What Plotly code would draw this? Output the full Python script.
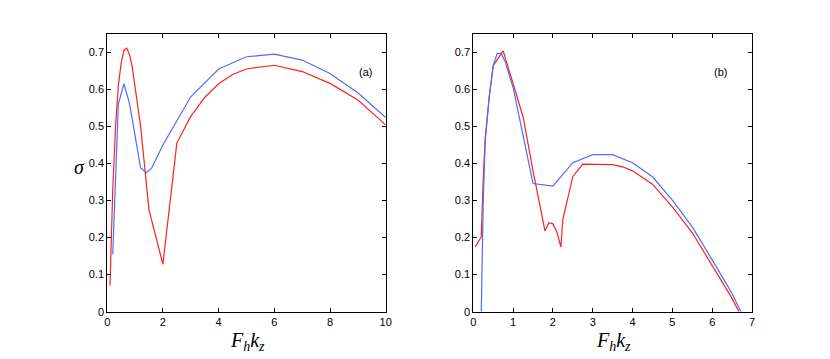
import plotly.graph_objects as go

# panel (a)
a_blue_x = [0.2, 0.4, 0.6, 0.8, 1.0, 1.2, 1.4, 1.6, 2.0, 3, 4, 5, 6, 7, 8, 9, 10]
a_blue_y = [0.155, 0.56, 0.615, 0.562, 0.475, 0.388, 0.375, 0.388, 0.45, 0.58,
            0.655, 0.688, 0.695, 0.679, 0.643, 0.591, 0.524]
a_red_x = [0.1, 0.2, 0.3, 0.4, 0.5, 0.6, 0.7, 0.8, 0.9, 1.0, 1.1, 1.2, 1.5, 2.0,
           2.5, 3.0, 3.5, 4.0, 4.5, 5, 6, 7, 8, 9, 10]
a_red_y = [0.07, 0.33, 0.50, 0.61, 0.67, 0.705, 0.711, 0.695, 0.66, 0.61, 0.56,
           0.50, 0.275, 0.128, 0.455, 0.527, 0.578, 0.615, 0.64, 0.655, 0.665,
           0.648, 0.616, 0.571, 0.504]

# panel (b)
b_blue_x = [0.2, 0.25, 0.3, 0.4, 0.5, 0.6, 0.7, 0.8, 1.0, 1.25, 1.5, 2.0, 2.5,
            3.0, 3.5, 4.0, 4.5, 5.0, 5.5, 6.0, 6.5, 6.72]
b_blue_y = [0.0, 0.30, 0.46, 0.58, 0.664, 0.697, 0.697, 0.675, 0.605, 0.48,
            0.346, 0.339, 0.402, 0.424, 0.424, 0.402, 0.364, 0.301, 0.229,
            0.140, 0.049, 0.0]
b_red_x = [0.05, 0.2, 0.25, 0.3, 0.4, 0.5, 0.75, 1.0, 1.25, 1.5, 1.8, 1.9, 2.0,
           2.1, 2.2, 2.25, 2.5, 2.75, 3.0, 3.5, 3.75, 4.0, 4.5, 5.0, 5.5, 6.0,
           6.5, 6.67]
b_red_y = [0.175, 0.202, 0.36, 0.47, 0.58, 0.664, 0.704, 0.616, 0.526, 0.38,
           0.218, 0.24, 0.237, 0.215, 0.174, 0.25, 0.365, 0.398, 0.398, 0.397,
           0.391, 0.380, 0.344, 0.283, 0.213, 0.126, 0.036, 0.0]

y_ticks = [0, 0.1, 0.2, 0.3, 0.4, 0.5, 0.6, 0.7]
y_ticktext = ["0", "0.1", "0.2", "0.3", "0.4", "0.5", "0.6", "0.7"]

blue = "#4d6bff"
red = "#ff2020"

fig = go.Figure()
fig.add_trace(go.Scatter(x=a_red_x, y=a_red_y, mode="lines",
                         line=dict(color=red, width=1.2), xaxis="x", yaxis="y"))
fig.add_trace(go.Scatter(x=a_blue_x, y=a_blue_y, mode="lines",
                         line=dict(color=blue, width=1.2), xaxis="x", yaxis="y"))
fig.add_trace(go.Scatter(x=b_red_x, y=b_red_y, mode="lines",
                         line=dict(color=red, width=1.2), xaxis="x2", yaxis="y2"))
fig.add_trace(go.Scatter(x=b_blue_x, y=b_blue_y, mode="lines",
                         line=dict(color=blue, width=1.2), xaxis="x2", yaxis="y2"))

axis_style = dict(
    showline=True, linecolor="black", linewidth=1, mirror="allticks",
    ticks="inside", ticklen=4, tickcolor="black", showgrid=False, zeroline=False,
    automargin=False,
    tickfont=dict(family="Liberation Sans, Arial", size=11, color="black"),
)
# the page body adds an 8 px offset, so positions are measured 8 px up/left
W, H, OFF = 830, 359, 8
ydom = [(H - (311.7 - OFF)) / H, (H - (33.75 - OFF)) / H]

fig.update_layout(
    width=W, height=H,
    margin=dict(l=0, r=0, t=0, b=0, pad=0, autoexpand=False),
    paper_bgcolor="white", plot_bgcolor="white",
    showlegend=False,
    xaxis=dict(domain=[(107.2 - OFF) / W, (385.7 - OFF) / W], range=[0, 10],
               tickvals=[0, 2, 4, 6, 8, 10], **axis_style),
    yaxis=dict(domain=ydom, range=[0, 0.75], anchor="x",
               tickvals=y_ticks, ticktext=y_ticktext, **axis_style),
    xaxis2=dict(domain=[(473.3 - OFF) / W, (752 - OFF) / W], range=[0, 7],
                anchor="y2", tickvals=[0, 1, 2, 3, 4, 5, 6, 7], **axis_style),
    yaxis2=dict(domain=ydom, range=[0, 0.75], anchor="x2",
                tickvals=y_ticks, ticktext=y_ticktext, **axis_style),
)

xlabel = "<i>F<sub>h</sub>k<sub>z</sub></i>"
serif = dict(family="Liberation Serif, DejaVu Serif", size=20, color="black")
for cx in (247, 613):
    fig.add_annotation(text=xlabel, xref="paper", yref="paper",
                       x=(cx - OFF) / W, y=(H - (341 - OFF)) / H,
                       xanchor="center", yanchor="middle",
                       showarrow=False, font=serif)
fig.add_annotation(text="<i>σ</i>", xref="paper", yref="paper",
                   x=(79 - OFF) / W, y=(H - (167 - OFF)) / H,
                   xanchor="center", yanchor="middle",
                   showarrow=False, font=dict(serif, size=20))
fig.add_annotation(text="(a)", xref="x", yref="y", x=9.26, y=0.647,
                   showarrow=False,
                   font=dict(family="Liberation Sans, Arial", size=11, color="black"))
fig.add_annotation(text="(b)", xref="x2", yref="y2", x=6.2, y=0.647,
                   showarrow=False,
                   font=dict(family="Liberation Sans, Arial", size=11, color="black"))

fig.write_html("out.html")
